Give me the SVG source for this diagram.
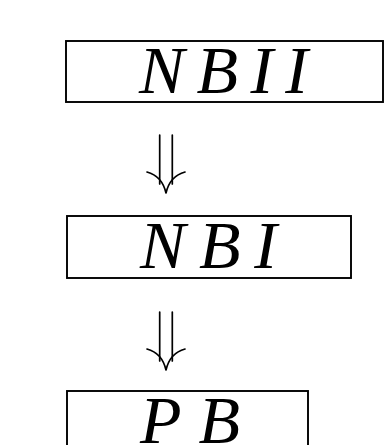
<svg xmlns="http://www.w3.org/2000/svg" width="391" height="445" viewBox="0 0 391 445">
  <style>
    .box { fill: none; stroke: #000; stroke-width: 1.9; }
    .lbl { font-family: "Liberation Serif", "DejaVu Serif", serif; font-style: italic; font-size: 68px; fill: #000; }
    .arr { fill: none; stroke: #000; stroke-width: 1.7; stroke-linecap: round; }
  </style>
  <defs>
    <!-- double down arrow, origin at its top centre -->
    <g id="dbl-down">
      <path class="arr" d="M-6.3,0 V49 M6.3,0 V49"/>
      <path class="arr" d="M-19,37 Q-4,41 0,58 M19,37 Q4,41 0,58"/>
    </g>
  </defs>
  <rect width="391" height="445" fill="#fff"/>

  <g id="node-nbii">
    <rect class="box" x="66" y="41" width="317" height="61"/>
    <text class="lbl" x="139" y="93" textLength="169" lengthAdjust="spacing">NBII</text>
  </g>

  <g id="node-nbi">
    <rect class="box" x="67" y="216" width="284" height="62"/>
    <text class="lbl" x="140" y="268" textLength="137" lengthAdjust="spacing">NBI</text>
  </g>

  <g id="node-pb">
    <rect class="box" x="67" y="391" width="241" height="60"/>
    <text class="lbl" x="140" y="443" textLength="100" lengthAdjust="spacing">PB</text>
  </g>

  <g id="connectors">
    <use href="#dbl-down" x="166" y="135"/>
    <use href="#dbl-down" x="166" y="312"/>
  </g>
</svg>
